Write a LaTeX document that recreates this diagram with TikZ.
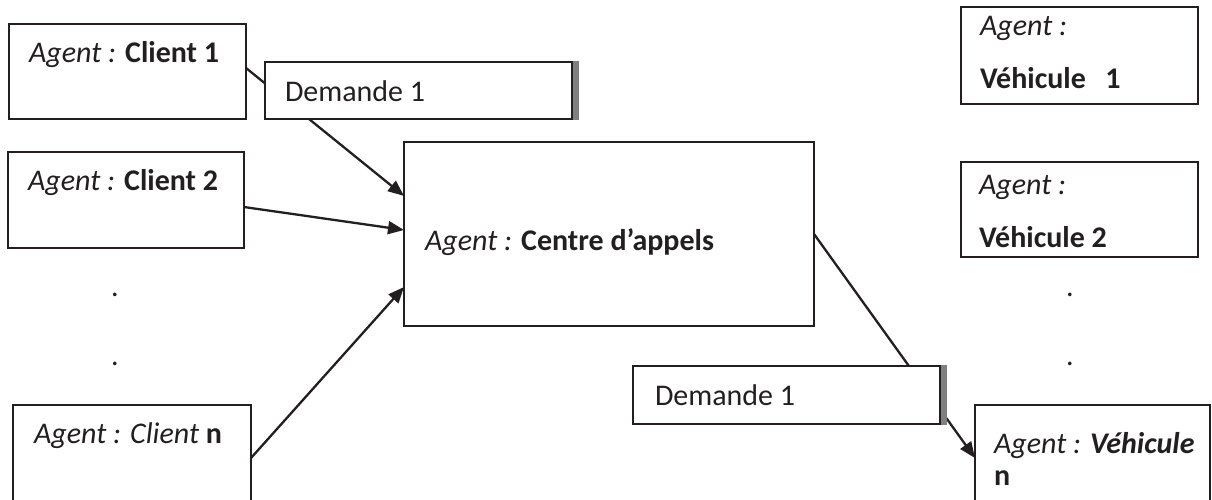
\documentclass[tikz,border=0pt]{standalone}
\usepackage{fontspec}
\setmainfont{Carlito}
\usetikzlibrary{arrows.meta,calc}
\definecolor{ink}{HTML}{231F20}
\definecolor{shadowgray}{HTML}{808080}
\begin{document}
\begin{tikzpicture}[x=1pt,y=-1pt,
  box/.style={draw=ink,line width=2pt,fill=white,inner sep=0pt,outer sep=0pt,anchor=north west},
  lbl/.style={anchor=base west,inner sep=0pt,outer sep=0pt,text=ink,font=\fontsize{30}{36}\selectfont},
  conn/.style={draw=ink,line width=2.3pt},
  arr/.style={conn,-{Triangle[length=16pt,width=13pt]}}
]
\useasboundingbox (0,0) rectangle (1212,499);
% agent boxes
\node[box,minimum width=237pt,minimum height=95pt] (c1) at (9,24) {};
\node[box,minimum width=236pt,minimum height=96pt] (c2) at (8,152) {};
\node[box,minimum width=238pt,minimum height=110pt] (cn) at (13,405) {};
\node[box,minimum width=410pt,minimum height=184pt] (ctr) at (404,142) {};
\node[box,minimum width=237pt,minimum height=97pt] (v1) at (961,7) {};
\node[box,minimum width=237pt,minimum height=95pt] (v2) at (961,162) {};
\node[box,minimum width=235pt,minimum height=110pt] (vn) at (975,405) {};
% texts
\node[lbl] (t1) at (29,62) {{\itshape Agent :} {\bfseries Client 1}};
\node[lbl] (t2) at (28,190) {{\itshape Agent :} {\bfseries Client 2}};
\node[lbl] (tn) at (34,443) {{\itshape Agent : Client} {\bfseries n}};
\node[lbl] (tc) at (425,250) {{\itshape Agent :} {\bfseries Centre d’appels}};
\node[lbl] (tv1a) at (980,35) {{\itshape Agent :}};
\node[lbl] (tv1b) at (980,88) {{\bfseries Véhicule\hspace{0.42em} 1}};
\node[lbl] (tv2a) at (979,194) {{\itshape Agent :}};
\node[lbl] (tv2b) at (979,247) {{\bfseries Véhicule 2}};
\node[lbl] (tvna) at (994,453) {{\itshape Agent :} {\bfseries\itshape Véhicule}};
\node[lbl] (tvnb) at (994,485) {{\bfseries n}};
% dots
\node[lbl,anchor=base] (dl1) at (115,296) {.};
\node[lbl,anchor=base] (dl2) at (115,365) {.};
\node[lbl,anchor=base] (dr1) at (1070,296) {.};
\node[lbl,anchor=base] (dr2) at (1070,365) {.};
% connectors
\draw[arr] ($(c1.north east)!0.463!(c1.south east)$) -- ($(ctr.north west)!0.293!(ctr.south west)$);
\draw[arr] ($(c2.north east)!0.573!(c2.south east)$) -- ($(ctr.north west)!0.478!(ctr.south west)$);
\draw[arr] ($(cn.north east)+(0,53)$) -- ($(ctr.north west)!0.788!(ctr.south west)$);
\draw[arr] (ctr.east) -- ($(vn.north west)+(0,53)$);
% message boxes on the connectors
\node[box,minimum width=307pt,minimum height=57pt] (d1) at (265,62) {};
\fill[shadowgray] ($(d1.north east)+(1,-1)$) rectangle ($(d1.south east)+(7,1)$);
\node[lbl] (td1) at (285,101) {Demande 1};
\node[box,minimum width=307pt,minimum height=58pt] (d2) at (633,366) {};
\fill[shadowgray] ($(d2.north east)+(1,-1)$) rectangle ($(d2.south east)+(7,1)$);
\node[lbl] (td2) at (655,405) {Demande 1};
\end{tikzpicture}
\end{document}
